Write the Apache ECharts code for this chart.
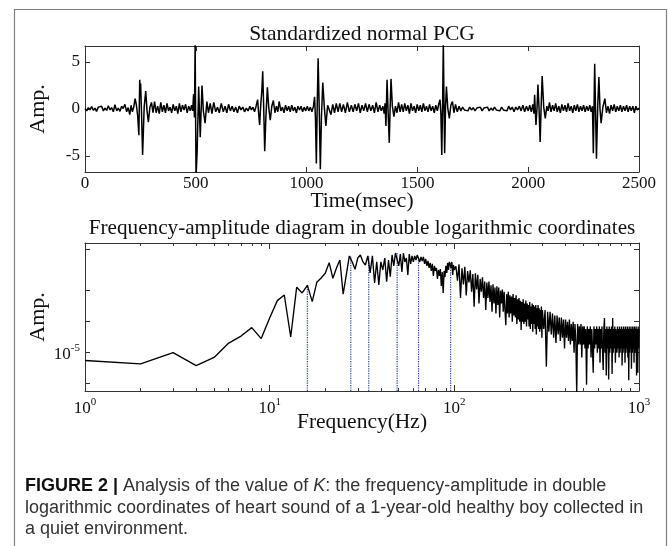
<!DOCTYPE html>
<html><head><meta charset="utf-8">
<script src="https://cdn.jsdelivr.net/npm/echarts@6/dist/echarts.min.js"></script>
<style>html,body{margin:0;padding:0;background:#fff}#c{width:669px;height:546px}</style>
</head><body><div id="c"></div>
<script>
// ---------- Top panel: standardized PCG (time ms, amplitude) ----------
const pcgSamples = [
[0,0.05],[8,-0.2],[15,0.15],[22,-0.1],[30,0.25],[38,-0.15],[45,0.1],[52,-0.25],[60,0.2],[68,0.0],
[75,0.3],[83,-0.2],[90,0.1],[98,-0.15],[105,0.35],[113,-0.1],[120,0.15],[128,-0.3],[135,0.45],[143,-0.2],
[150,0.1],[158,-0.25],[165,0.3],[172,0.05],[180,0.5],[188,-0.3],[195,0.15],[202,-0.6],[208,0.4],[214,-0.3],
[220,0.2],[226,1.1],[232,0.4],[238,-0.8],[243,-2.8],[247,3.1],[249,1.8],[251,2.7],[255,-0.3],[260,-4.9],
[267,0.2],[274,1.9],[280,-0.2],[286,-1.4],[293,0.2],[300,0.7],[307,-0.4],[314,0.8],[321,-0.4],[328,0.3],
[335,-0.5],[342,0.7],[349,-0.3],[356,0.4],[363,-0.4],[370,0.6],[377,-0.2],[384,0.2],[391,-0.4],[398,0.5],
[405,-0.2],[412,0.3],[419,-0.5],[426,0.6],[433,-0.3],[440,0.4],[447,-0.1],[454,0.5],[461,-0.4],[468,0.3],
[475,-0.2],[481,0.4],[486,-0.2],[490,1.6],[494,-0.9],[497,7.2],[501,-7.2],[506,-4.6],[513,2.4],[520,-3.0],
[528,2.5],[534,-0.2],[542,-1.5],[550,0.8],[557,-0.4],[565,0.6],[573,-0.5],[581,0.7],[590,-0.3],[598,0.2],
[606,-0.4],[615,0.6],[624,-0.3],[632,0.3],[640,-0.4],[648,0.5],[656,-0.2],[664,0.3],[672,-0.3],[680,0.2],
[688,-0.4],[696,0.3],[704,-0.1],[712,0.2],[720,-0.3],[728,0.1],[736,-0.2],[744,0.3],[751,-0.1],[758,0.2],
[765,-0.3],[772,0.3],[779,1.0],[784,-0.6],[788,-1.7],[793,0.4],[798,2.0],[802,4.0],[806,0.5],[811,-4.5],
[816,-1.0],[823,2.3],[829,0.2],[836,-1.2],[843,0.3],[850,0.9],[857,-0.4],[864,0.3],[870,-0.3],[876,0.8],
[884,-0.2],[891,0.2],[898,-0.4],[905,0.4],[912,-0.2],[919,0.3],[926,-0.3],[933,0.4],[940,-0.2],[947,0.2],
[954,-0.4],[961,0.3],[968,-0.1],[975,0.3],[982,-0.3],[989,0.2],[996,-0.2],[1003,0.3],[1010,-0.2],[1017,0.2],
[1024,-0.3],[1031,0.3],[1036,1.3],[1040,-1.0],[1044,-5.8],[1048,0.5],[1052,5.4],[1057,0.0],[1062,-6.4],[1067,-0.8],
[1073,2.8],[1080,0.2],[1087,-1.8],[1095,0.4],[1102,0.6],[1110,-0.6],[1118,0.5],[1126,-0.4],[1134,0.6],[1142,-0.3],
[1150,0.6],[1158,-0.3],[1166,0.5],[1175,-0.4],[1184,0.7],[1193,-0.3],[1202,0.4],[1210,-0.3],[1218,0.5],[1226,-0.2],
[1234,0.6],[1242,-0.4],[1250,0.4],[1258,-0.2],[1266,0.6],[1274,-0.3],[1282,0.5],[1290,-0.2],[1298,0.4],[1306,-0.4],
[1314,0.7],[1322,-0.3],[1330,0.4],[1337,-0.2],[1344,0.3],[1350,-0.5],[1354,0.6],[1358,-1.8],[1363,3.1],[1368,-0.4],
[1373,-3.6],[1377,0.2],[1381,3.2],[1387,0.3],[1394,-0.8],[1401,0.3],[1408,-0.4],[1415,0.7],[1422,-0.3],[1429,0.5],
[1436,-0.3],[1443,0.6],[1450,-0.2],[1457,0.4],[1464,-0.5],[1471,0.6],[1478,-0.2],[1485,0.3],[1492,-0.4],[1499,0.5],
[1506,-0.2],[1513,0.4],[1520,-0.3],[1527,0.6],[1534,-0.2],[1541,0.3],[1548,-0.3],[1555,0.5],[1562,-0.2],[1569,0.3],
[1576,-0.4],[1583,0.4],[1590,-0.2],[1596,0.5],[1602,1.0],[1606,-0.5],[1610,-4.9],[1614,1.0],[1617,7.2],[1620,0.5],
[1623,-4.7],[1627,0.3],[1631,2.4],[1637,0.1],[1644,-1.0],[1651,0.4],[1658,0.8],[1665,-0.4],[1672,0.5],[1680,-0.3],
[1688,0.3],[1696,-0.2],[1704,0.2],[1712,-0.1],[1720,0.1],[1728,-0.2],[1736,0.2],[1744,-0.1],[1752,0.15],[1760,-0.2],
[1768,0.1],[1776,-0.1],[1784,0.2],[1792,-0.2],[1800,0.1],[1808,-0.1],[1816,0.2],[1824,-0.2],[1832,0.1],[1840,-0.15],
[1848,0.2],[1856,-0.1],[1864,0.1],[1872,-0.2],[1880,0.2],[1888,-0.1],[1896,0.1],[1904,-0.2],[1912,0.3],[1920,-0.1],
[1928,0.2],[1936,-0.3],[1944,0.2],[1952,-0.1],[1960,0.3],[1968,-0.2],[1976,0.4],[1984,-0.3],[1992,0.3],[2000,-0.2],
[2007,0.4],[2014,-0.3],[2021,0.5],[2026,-0.5],[2029,1.5],[2035,-1.7],[2040,0.2],[2044,2.6],[2049,0.0],[2054,-3.5],
[2058,0.0],[2063,3.5],[2070,0.2],[2077,-1.0],[2084,0.3],[2090,-0.2],[2096,0.7],[2103,-0.3],[2110,0.4],[2117,-0.2],
[2124,0.6],[2131,-0.3],[2138,0.3],[2145,-0.4],[2152,0.5],[2159,-0.2],[2166,0.4],[2173,-0.3],[2180,0.6],[2187,-0.2],
[2194,0.3],[2201,-0.4],[2208,0.4],[2215,-0.2],[2222,0.5],[2229,-0.3],[2236,0.3],[2243,-0.2],[2250,0.4],[2257,-0.3],
[2264,0.3],[2271,-0.2],[2278,0.4],[2284,-0.3],[2290,0.3],[2294,-4.7],[2300,4.8],[2308,-5.3],[2314,0.5],[2319,3.4],
[2324,0.0],[2329,-1.5],[2337,0.2],[2346,1.1],[2353,-0.4],[2360,0.3],[2367,-0.5],[2374,0.4],[2381,-0.2],[2388,0.5],
[2395,-0.3],[2402,0.3],[2409,-0.2],[2416,0.4],[2423,-0.3],[2430,0.3],[2437,-0.2],[2444,0.4],[2451,-0.3],[2458,0.3],
[2465,-0.2],[2472,0.3],[2479,-0.4],[2486,0.3],[2493,-0.1],[2500,0.1]
];
const pcgTimeTicks = [0, 500, 1000, 1500, 2000, 2500];
const pcgAmpTicks = [-5, 0, 5];

// ---------- Bottom panel: spectrum amplitude (units of 1e-5) ----------
// 1..100 Hz, step 1 Hz
const specLowE5 = [
0.84,0.78,1.00,0.75,0.90,1.24,1.45,1.75,1.37,2.17,
3.20,3.63,1.42,4.31,3.80,4.51,3.13,4.82,5.31,5.90,
7.48,5.27,6.64,7.94,3.69,5.68,8.69,7.60,6.45,8.30,
8.88,7.60,7.10,8.69,5.94,8.69,4.76,7.60,4.54,7.60,
6.35,8.30,4.89,7.94,5.47,8.88,6.95,9.28,9.49,6.95,
9.07,6.07,9.28,7.60,8.30,5.68,9.07,7.27,8.69,7.60,
8.69,7.94,8.88,8.69,7.60,8.49,7.77,8.49,7.27,8.11,
6.95,7.77,6.64,7.43,6.21,7.27,5.55,6.95,6.21,6.64,
5.20,6.35,5.55,6.49,4.44,6.07,3.80,6.21,5.42,6.95,
5.94,7.43,6.35,7.60,7.60,6.64,7.60,5.68,7.10,6.35
];
// 102..300 Hz, step 2 Hz
const specMidE5 = [
6.9,5.0,7.2,3.4,6.6, 4.6,6.8,3.6,6.2,4.8, 6.3,3.9,5.8,2.8,5.9, 4.1,5.7,3.0,5.2,3.9,
5.4,3.4,4.9,2.6,4.8, 3.4,4.9,3.1,4.5,2.5, 4.6,3.0,4.3,2.4,4.4, 2.9,4.3,2.2,4.0,3.0,
4.1,2.5,3.9,2.6,1.85, 3.7,2.4,3.9,2.2,3.6, 2.4,3.5,2.0,3.7,2.3, 3.4,2.2,3.6,1.9,3.3,
2.1,3.4,2.0,3.2,1.66, 3.1,2.0,3.3,1.9,3.0, 2.0,3.2,1.8,3.0,2.1, 2.9,1.8,3.1,1.7,2.8,
1.9,3.0,1.6,2.9,1.9, 2.8,1.7,2.9,1.5,2.7, 1.8,2.9,1.7,2.7,1.6, 2.6,1.7,2.8,1.4,2.6
];
// 305..1000 Hz, step 5 Hz
const specHighE5 = [
1.7,2.6,0.73,2.5,1.6, 2.5,1.5,2.4,1.4,2.3, 1.24,2.3,1.5,2.2,1.3, 2.2,1.4,2.1,1.1,2.1,
1.4,2.0,1.3,2.1,1.2, 1.9,1.3,2.0,1.0,1.9, 1.3,0.40,1.9,1.2,1.8, 1.2,1.9,0.9,1.8,1.2,
1.8,1.1,1.7,0.49,1.8, 1.1,1.7,1.2,1.8,0.9, 1.7,1.1,0.64,1.8,1.1, 1.7,1.2,1.8,1.0,1.7,
1.1,1.8,0.8,1.7,1.1, 1.8,1.0,0.68,1.7,2.17, 1.0,1.7,0.6,1.8,1.1, 1.7,0.55,1.8,1.0,1.7,
1.1,1.8,0.62,2.17,1.0, 1.7,1.1,1.8,0.8,1.7, 1.66,1.0,1.8,1.1,1.7, 0.9,1.8,1.0,1.7,1.1,
1.8,0.75,1.7,1.0,1.8, 1.1,1.7,0.8,1.8,1.0, 1.7,1.1,1.8,0.9,1.7, 0.54,1.8,1.0,1.7,1.1,
1.8,0.7,1.7,1.0,1.8, 1.1,1.7,0.8,1.8,1.0, 1.7,1.1,1.8,0.6,1.7, 1.0,0.64,1.8,1.1,1.7
];
// dotted marker lines (frequency Hz, amplitude in 1e-5)
const markFreqHz = [16, 27.5, 34.4, 49, 64, 95.5];
const markAmpE5 = [4.51, 8.69, 8.69, 9.3, 8.5, 7.4];

const freqMajorTicks = [1, 10, 100, 1000];
const freqMinorTicks = [2,3,4,5,6,7,8,9,20,30,40,50,60,70,80,90,200,300,400,500,600,700,800,900];
const ampTicks = [5e-6, 1e-5, 2e-5, 4e-5, 1e-4];
const ampLabelTicks = [1e-5];
const AMP_MIN = 4.25e-6, AMP_MAX = 1.16e-4;

// ---------- build ----------
const spectrum = [];
specLowE5.forEach((v, i) => spectrum.push([1 + i, v * 1e-5]));
specMidE5.forEach((v, i) => spectrum.push([102 + 2 * i, v * 1e-5]));
specHighE5.forEach((v, i) => spectrum.push([305 + 5 * i, v * 1e-5]));

const SERIF = 'Liberation Serif';
const SANS = '"Liberation Sans",Arial,sans-serif';
const AX = '#333';
const TXT = '#111';

function lineAx(extra) {
  return Object.assign({
    splitLine: { show: false },
    axisLine: { show: true, onZero: false, lineStyle: { color: AX, width: 1 } },
    axisTick: { show: true, inside: true, length: 5, lineStyle: { color: AX, width: 1 } },
    axisLabel: { show: false }
  }, extra);
}
const numLabel = {
  formatter: v => '{n|' + v + '}',
  rich: { n: { fontFamily: SERIF, fontSize: 17, color: TXT } }
};
const pow10Label = {
  formatter: v => '{b|10}{s|' + Math.round(Math.log10(v)) + '}',
  rich: {
    b: { fontFamily: SERIF, fontSize: 17, color: TXT, lineHeight: 20, verticalAlign: 'bottom' },
    s: { fontFamily: SERIF, fontSize: 11, color: TXT, lineHeight: 8, verticalAlign: 'top' }
  }
};

const series = [{
  type: 'line', xAxisIndex: 0, yAxisIndex: 0, data: pcgSamples,
  symbol: 'none', lineStyle: { color: '#000', width: 1.5 }, clip: true, silent: true
}];
markFreqHz.forEach((f, i) => series.push({
  type: 'line', xAxisIndex: 2, yAxisIndex: 2, data: [[f, AMP_MIN], [f, markAmpE5[i] * 1e-5]],
  symbol: 'none', lineStyle: { color: '#1f3b99', width: 1.2, type: 'dotted' }, silent: true
}));
series.push({
  type: 'line', xAxisIndex: 2, yAxisIndex: 2, data: spectrum,
  symbol: 'none', lineStyle: { color: '#000', width: 1.35 }, clip: true, silent: true
});

function txt(x, y, s, size, rot) {
  return { type: 'text', x: x, y: y, rotation: rot || 0,
    style: { text: s, font: size + 'px "Liberation Serif"', fill: TXT, align: 'center', verticalAlign: 'middle' } };
}

const option = {
  animation: false,
  backgroundColor: '#fff',
  grid: [
    { left: 85, top: 46, width: 554, height: 126 },
    { left: 85, top: 243, width: 554, height: 148 },
    { left: 85, top: 243, width: 554, height: 148 }
  ],
  xAxis: [
    lineAx({ gridIndex: 0, type: 'value', min: 0, max: 2500, position: 'bottom',
      axisTick: { inside: true, length: 5, customValues: pcgTimeTicks, lineStyle: { color: AX } },
      axisLabel: Object.assign({ show: true, customValues: pcgTimeTicks, margin: 3 }, numLabel) }),
    lineAx({ gridIndex: 0, type: 'value', min: 0, max: 2500, position: 'top',
      axisTick: { inside: true, length: 5, customValues: pcgTimeTicks, lineStyle: { color: AX } } }),
    lineAx({ gridIndex: 1, type: 'log', logBase: 10, min: 1, max: 1000, position: 'bottom',
      axisTick: { inside: true, length: 6, customValues: freqMajorTicks, lineStyle: { color: AX } },
      axisLabel: Object.assign({ show: true, customValues: freqMajorTicks, margin: 6 }, pow10Label) }),
    lineAx({ gridIndex: 1, type: 'log', logBase: 10, min: 1, max: 1000, position: 'top',
      axisTick: { inside: true, length: 6, customValues: freqMajorTicks, lineStyle: { color: AX } } }),
    lineAx({ gridIndex: 2, type: 'log', logBase: 10, min: 1, max: 1000, position: 'bottom',
      axisLine: { show: false, onZero: false },
      axisTick: { inside: true, length: 3, customValues: freqMinorTicks, lineStyle: { color: AX } } }),
    lineAx({ gridIndex: 2, type: 'log', logBase: 10, min: 1, max: 1000, position: 'top',
      axisLine: { show: false, onZero: false },
      axisTick: { inside: true, length: 3, customValues: freqMinorTicks, lineStyle: { color: AX } } })
  ],
  yAxis: [
    lineAx({ gridIndex: 0, type: 'value', min: -6.7, max: 6.7, position: 'left',
      axisTick: { inside: true, length: 5, customValues: pcgAmpTicks, lineStyle: { color: AX } },
      axisLabel: Object.assign({ show: true, customValues: pcgAmpTicks, margin: 5 }, numLabel) }),
    lineAx({ gridIndex: 0, type: 'value', min: -6.7, max: 6.7, position: 'right',
      axisTick: { inside: true, length: 5, customValues: pcgAmpTicks, lineStyle: { color: AX } } }),
    lineAx({ gridIndex: 1, type: 'log', logBase: 10, min: AMP_MIN, max: AMP_MAX, position: 'left',
      axisTick: { inside: true, length: 5, customValues: ampTicks, lineStyle: { color: AX } },
      axisLabel: Object.assign({ show: true, customValues: ampLabelTicks, margin: 5 }, pow10Label) }),
    lineAx({ gridIndex: 1, type: 'log', logBase: 10, min: AMP_MIN, max: AMP_MAX, position: 'right',
      axisTick: { inside: true, length: 5, customValues: ampTicks, lineStyle: { color: AX } } }),
    { gridIndex: 2, type: 'value', min: 0, max: 1, show: false }
  ],
  series: series,
  graphic: [
    { type: 'rect', shape: { x: 14.5, y: 9.5, width: 652, height: 600 },
      style: { fill: 'none', stroke: '#808080', lineWidth: 1.2 }, silent: true },
    txt(362, 34, 'Standardized normal PCG', 21.5),
    txt(362, 201, 'Time(msec)', 21.5),
    txt(362, 228, 'Frequency-amplitude diagram in double logarithmic coordinates', 21.2),
    txt(362, 422, 'Frequency(Hz)', 21.5),
    txt(38, 109, 'Amp.', 22, Math.PI / 2),
    txt(38, 317, 'Amp.', 22, Math.PI / 2),
    { type: 'text', x: 25, y: 486, style: {
        text: '{b|FIGURE 2 |} Analysis of the value of {i|K}: the frequency-amplitude in double',
        font: '18px ' + SANS, fill: '#333', align: 'left', verticalAlign: 'middle',
        rich: { b: { font: 'bold 18px ' + SANS, fill: '#111' }, i: { font: 'italic 18px ' + SANS, fill: '#333' } } } },
    { type: 'text', x: 25, y: 508, style: {
        text: 'logarithmic coordinates of heart sound of a 1-year-old healthy boy collected in',
        font: '18px ' + SANS, fill: '#333', align: 'left', verticalAlign: 'middle' } },
    { type: 'text', x: 25, y: 529, style: {
        text: 'a quiet environment.',
        font: '18px ' + SANS, fill: '#333', align: 'left', verticalAlign: 'middle' } }
  ]
};
const chart = echarts.init(document.getElementById('c'), null, { renderer: 'canvas' });
chart.setOption(option);
</script>
</body></html>
